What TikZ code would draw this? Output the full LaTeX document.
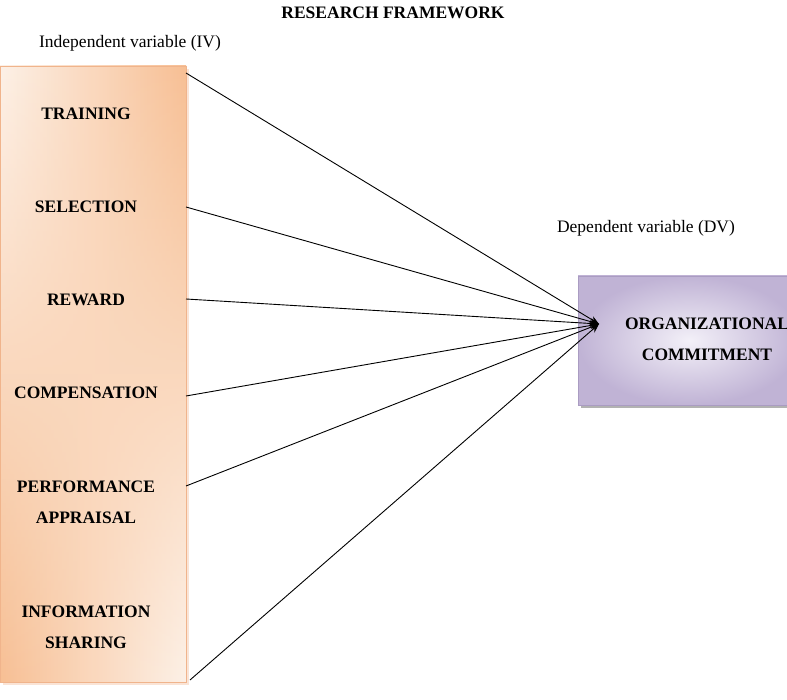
\documentclass[tikz,border=0pt]{standalone}
\usepackage{fontspec}
\setmainfont{Liberation Serif}
\usetikzlibrary{arrows.meta, fadings, shadows}

\definecolor{ivlight}{RGB}{253,241,231}
\definecolor{ivdark}{RGB}{247,191,148}
\definecolor{ivedge}{RGB}{240,180,140}
\definecolor{dvlight}{RGB}{243,240,248}
\definecolor{dvdark}{RGB}{192,179,213}
\definecolor{dvedge}{RGB}{170,156,194}

\tikzfading[name=fadedown, top color=transparent!100, bottom color=transparent!0]

\tikzset{
  factor/.style={font=\bfseries\fontsize{17.5}{31}\selectfont, align=center},
  note/.style={font=\fontsize{17.5}{21}\selectfont},
  link/.style={line width=0.9pt, -{Stealth[length=9pt,width=7pt]}}
}

\begin{document}
\begin{tikzpicture}[x=1pt, y=-1pt]
\useasboundingbox (0,0) rectangle (787,700);
% Boxes
\fill[ivedge!70, opacity=.5] (3,69) rectangle (189,685);
\path[left color=ivlight, right color=ivdark] (0,66) rectangle (186,682);
\path[left color=ivdark, right color=ivlight, path fading=fadedown] (0,66) rectangle (186,682);
\draw[ivedge, line width=0.8pt] (0,66) rectangle (186,682);
\fill[gray!60] (581,279) rectangle (800,408);
\path[inner color=dvlight, outer color=dvdark] (578,276) rectangle (800,405);
\draw[dvedge, line width=0.8pt] (578,276) rectangle (800,405);
% Texts
\node[factor] (title) at (393,13) {RESEARCH FRAMEWORK};
\node[note] (ivlabel) at (130,43) {Independent variable (IV)};
\node[note] (dvlabel) at (646,228) {Dependent variable (DV)};
\node[factor] (training) at (86,114) {TRAINING};
\node[factor] (selection) at (86,207) {SELECTION};
\node[factor] (reward) at (86,300) {REWARD};
\node[factor] (compensation) at (86,393) {COMPENSATION};
\node[factor] (appraisal) at (86,502) {PERFORMANCE\\APPRAISAL};
\node[factor] (sharing) at (86,627) {INFORMATION\\SHARING};
\node[factor] (commitment) at (707,339) {ORGANIZATIONAL\\COMMITMENT};
% Arrows
\coordinate (tip) at (599,324);
\coordinate (s1) at (186,73);
\coordinate (s2) at (186,207);
\coordinate (s3) at (186,299);
\coordinate (s4) at (186,396);
\coordinate (s5) at (186,486);
\coordinate (s6) at (190,680);
\foreach \s in {s1,s2,s3,s4,s5,s6}
  \draw[link] (\s) -- (tip);
\end{tikzpicture}
\end{document}
